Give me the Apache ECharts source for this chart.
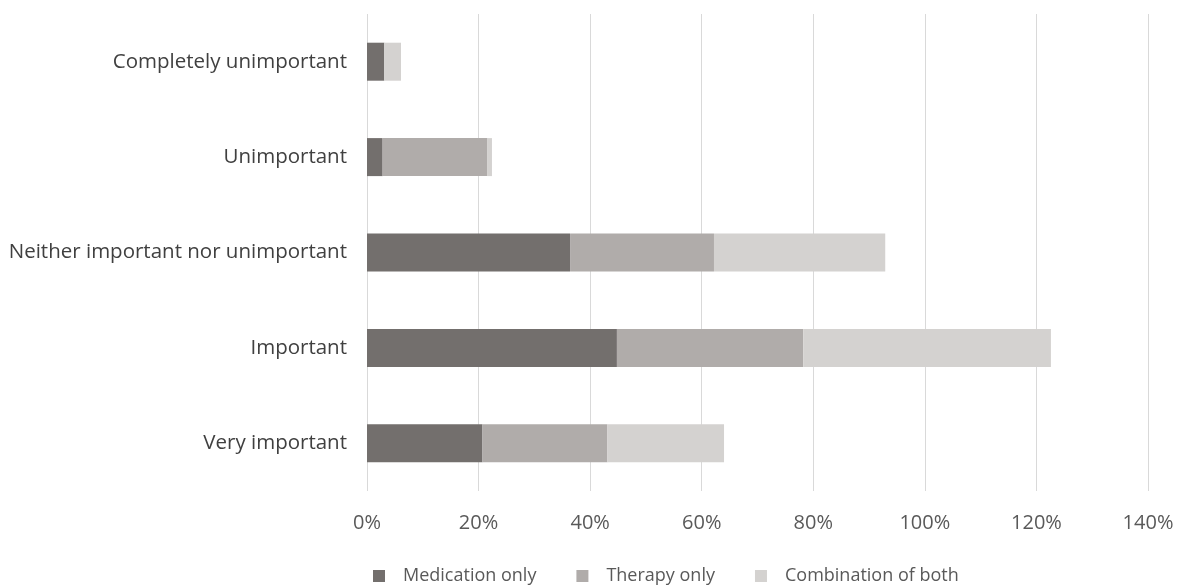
<!DOCTYPE html>
<html>
<head>
<meta charset="utf-8">
<script src="https://cdn.jsdelivr.net/npm/echarts@6/dist/echarts.min.js"></script>
<style>
  html, body { margin: 0; padding: 0; background: #ffffff; }
  #chart { width: 1181px; height: 585px; }
</style>
</head>
<body>
<div id="chart"></div>
<script>
// Response categories, top to bottom
const categories = [
  'Completely unimportant',
  'Unimportant',
  'Neither important nor unimportant',
  'Important',
  'Very important'
];

// Percent of respondents per treatment preference
const medicationOnly = [3.1, 2.8, 36.4, 44.8, 20.7];
const therapyOnly = [0, 18.8, 25.8, 33.4, 22.4];
const combinationOfBoth = [3.0, 0.8, 30.7, 44.4, 20.9];

const seriesNames = ['Medication only', 'Therapy only', 'Combination of both'];
const seriesColors = ['#736f6d', '#b0acaa', '#d4d2d0'];

const axisMin = 0;
const axisMax = 140;
const axisStep = 20;

const chart = echarts.init(document.getElementById('chart'), null, { renderer: 'canvas' });

const font = '"Open Sans", "Liberation Sans", sans-serif';

const seriesData = [medicationOnly, therapyOnly, combinationOfBoth];

chart.setOption({
  animation: false,
  backgroundColor: '#ffffff',
  grid: { left: 367, right: 33, top: 14, bottom: 94, containLabel: false },
  legend: {
    left: 368,
    top: 562,
    itemWidth: 12,
    itemHeight: 12,
    itemGap: 40,
    icon: 'rect',
    textStyle: {
      color: '#595959',
      fontSize: 18,
      fontFamily: font,
      padding: [0, 0, 0, 13]
    },
    data: seriesNames
  },
  xAxis: {
    type: 'value',
    min: axisMin,
    max: axisMax,
    interval: axisStep,
    axisLine: { show: false },
    axisTick: { show: false },
    splitLine: { show: true, lineStyle: { color: '#d9d9d9', width: 1 } },
    axisLabel: {
      formatter: '{value}%',
      color: '#595959',
      fontSize: 20,
      fontFamily: font,
      margin: 22
    }
  },
  yAxis: {
    type: 'category',
    inverse: true,
    data: categories,
    axisLine: { show: false },
    axisTick: { show: false },
    axisLabel: {
      color: '#404040',
      fontSize: 20.5,
      fontFamily: font,
      margin: 20
    }
  },
  series: seriesNames.map((name, i) => ({
    name: name,
    type: 'bar',
    stack: 'total',
    barWidth: 38,
    itemStyle: { color: seriesColors[i] },
    data: seriesData[i]
  }))
});
</script>
</body>
</html>
